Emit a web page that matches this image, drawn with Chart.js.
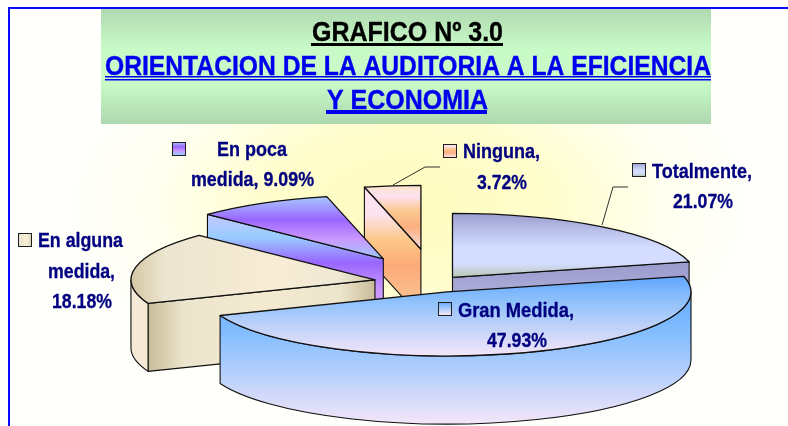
<!DOCTYPE html>
<html><head><meta charset="utf-8">
<style>html,body{margin:0;padding:0;background:#fff}canvas{display:block}</style>
<script src="https://cdn.jsdelivr.net/npm/chart.js@4"></script>
</head><body><canvas id="c" width="788" height="426"></canvas>
<script>
const categories=['Totalmente','Gran Medida','En alguna medida','En poca medida','Ninguna'];
const values=[21.07,47.93,18.18,9.09,3.72];
const explode=[0.11,0.147,0.255,0.435,0.53];
const titleLines=['GRAFICO Nº 3.0','ORIENTACION DE LA AUDITORIA A LA EFICIENCIA','Y ECONOMIA'];
const drawOrder=[4,3,2,0,1];
const RX=244,RY=64,DEPTH=68;
const topPaint=[
 ['y',212,277,[[0,'#9a9acc'],[.35,'#c0c8f0'],[.55,'#d4dcff'],[.8,'#d4dcff'],[1,'#b8c8b4']]],
 ['y',275,357,[[0,'#5ea4ff'],[.3,'#8cc0fb'],[1,'#f6e6f8']]],
 ['x',131,375,[[0,'#d4c8a4'],[.14,'#ece5d0'],[.6,'#f8ecd4'],[.85,'#efe8d4'],[1,'#d0c8a8']]],
 ['y',196,260,[[0,'#a8ccff'],[.37,'#9a66ff'],[.68,'#cc99ff'],[1,'#99ccff']]],
 ['y',185,250,[[0,'#f9e4c8'],[.17,'#fde3f0'],[.4,'#fcc890'],[.65,'#fbb080'],[1,'#fde0e0']]]
];
const wallPaint=[
 ['y',261,300,[[0,'#9a9acc'],[1,'#b0b0dc']]],
 ['y',290,424,[[0,'#66aaff'],[.3,'#80bcff'],[1,'#f4e6f8']]],
 ['x',148,375,[[0,'#c8bc98'],[.16,'#ece4cc'],[.5,'#f4ead2'],[.85,'#ece4cc'],[1,'#c8bc98']]],
 ['y',213,300,[[0,'#c4c8ff'],[.28,'#99ccff'],[.57,'#9966ff'],[.9,'#cc99ff'],[1,'#cc99ff']]],
 ['y',188,318,[[0,'#fde3f0'],[.2,'#fde3f0'],[.4,'#fcc888'],[.6,'#fbaa78'],[.85,'#fbc090'],[1,'#fbc090']]]
];
const TITLE_COL=['#000','#0000ee','#0000ee'];
const titleBoxes=[[312,503,41],[105,711,75],[327,488,109]];
const labelPlace=[
 {key:[632,163],lines:[[652,752,178],[673,733,208]]},
 {key:[438,302],lines:[[458,574,317],[487,547,347]]},
 {key:[18,233],lines:[[38,123,247],[48,115,278],[52,112,308]]},
 {key:[172,142],lines:[[217,287,156],[191,314,186]]},
 {key:[443,144],lines:[[463,540,158],[477,527,189]]}
];
const labelText=[
 [categories[0]+',',values[0].toFixed(2)+'%'],
 [categories[1]+',',values[1].toFixed(2)+'%'],
 ['En alguna','medida,',values[2].toFixed(2)+'%'],
 ['En poca','medida, '+values[3].toFixed(2)+'%'],
 [categories[4]+',',values[4].toFixed(2)+'%']
];
const leaders=[[[393,185],[425,167],[440,167]],[[602,225],[613,187],[628,187]]];

function grad(ctx,p,x0,y0,x1,y1){
  const g=p[0]==='y'?ctx.createLinearGradient(0,y0,0,y1):ctx.createLinearGradient(x0,0,x1,0);
  p[3].forEach(s=>g.addColorStop(s[0],s[1]));return g;
}
function screenGrad(ctx,p){return grad(ctx,p,p[1],p[1],p[2],p[2]);}
function apexOf(arc,i){
  const R=arc.outerRadius,mid=(arc.startAngle+arc.endAngle)/2;
  return [arc.x+explode[i]*Math.cos(mid)*RX,arc.y+explode[i]*Math.sin(mid)*RY,R];
}
function arcFill(c){
  const chart=c.chart,area=chart.chartArea;
  if(!area||c.dataIndex===undefined)return '#ccc';
  const i=c.dataIndex,p=topPaint[i];
  const R=Math.min(area.width,area.height)/2,cx=(area.left+area.right)/2,cy=(area.top+area.bottom)/2;
  const tot=values.reduce((a,b)=>a+b,0);let s=-Math.PI/2;
  for(let k=0;k<i;k++)s+=values[k]/tot*2*Math.PI;
  const mid=s+values[i]/tot*Math.PI;
  const ax=cx+explode[i]*Math.cos(mid)*RX,ay=cy+explode[i]*Math.sin(mid)*RY;
  const sx=RX/R,sy=RY/R;
  const lx=v=>(v-ax)/sx+cx,ly=v=>(v-ay)/sy+cy;
  return grad(chart.ctx,p,lx(p[1]),ly(p[1]),lx(p[2]),ly(p[2]));
}
function drawFit(ctx,text,x0,x1,base,font,color,heavy){
  ctx.save();ctx.font=font;ctx.fillStyle=color;ctx.textAlign='left';ctx.textBaseline='alphabetic';
  const w=ctx.measureText(text).width;
  ctx.translate(x0,base);ctx.scale((x1-x0)/w,1);ctx.fillText(text,0,0);
  if(heavy){ctx.strokeStyle=color;ctx.lineWidth=heavy;ctx.lineJoin='round';ctx.strokeText(text,0,0);}
  ctx.restore();
}
const pie3d={
 id:'pie3d',
 beforeDraw(chart){
  const ctx=chart.ctx,W=chart.width,H=chart.height;
  ctx.save();
  ctx.fillStyle='#fffffb';ctx.fillRect(0,0,W,H);
  ctx.save();ctx.translate(410,205);ctx.scale(1,0.55);
  const g=ctx.createRadialGradient(0,0,10,0,0,340);
  g.addColorStop(0,'#fffcc0');g.addColorStop(.4,'#fffdcc');g.addColorStop(.75,'#fffff0');g.addColorStop(1,'#fffffb');
  ctx.fillStyle=g;ctx.fillRect(-410,-420,W,840);ctx.restore();
  ctx.fillStyle='#0a0aff';ctx.fillRect(8,7,W-8,2);ctx.fillRect(8,7,2,H-7);
  const b=ctx.createLinearGradient(0,8,0,123);
  b.addColorStop(0,'#b0d8b0');b.addColorStop(.35,'#c8fac8');b.addColorStop(.65,'#c8fbc8');b.addColorStop(1,'#aed8ae');
  ctx.fillStyle=b;ctx.fillRect(101,9,610,115);
  titleLines.forEach((t,i)=>{
    const [x0,x1,y]=titleBoxes[i];
    drawFit(ctx,t,x0,x1,y,'bold 27.5px "Liberation Sans"',TITLE_COL[i],0.4);
  });
  ctx.fillStyle='#000';ctx.fillRect(311,43,192,3);
  ctx.fillStyle='#0000ee';
  ctx.fillRect(105,76,606,1.5);ctx.fillRect(105,79,606,1.5);
  ctx.fillRect(326,110,161,4);
  ctx.restore();
 },
 beforeDatasetsDraw(chart){
  const ctx=chart.ctx,arcs=chart.getDatasetMeta(0).data;
  ctx.save();ctx.strokeStyle='#101010';ctx.lineJoin='round';
  drawOrder.forEach(i=>{
    const arc=arcs[i],s=arc.startAngle,e=arc.endAngle;
    const [ax,ay,R]=apexOf(arc,i);
    const wg=screenGrad(ctx,wallPaint[i]);
    const face=t=>{
      const px=ax+Math.cos(t)*RX,py=ay+Math.sin(t)*RY;
      ctx.beginPath();ctx.moveTo(ax,ay);ctx.lineTo(px,py);ctx.lineTo(px,py+DEPTH);ctx.lineTo(ax,ay+DEPTH);ctx.closePath();
      ctx.fillStyle=wg;ctx.fill();ctx.lineWidth=1.1;ctx.stroke();
    };
    const t0=Math.max(s,0),t1=Math.min(e,Math.PI);
    if(Math.cos(s)<0)face(s);
    if(Math.cos(e)>0)face(e);
    if(t1>t0){
      ctx.beginPath();ctx.ellipse(ax,ay,RX,RY,0,t0,t1);
      ctx.ellipse(ax,ay+DEPTH,RX,RY,0,t1,t0,true);ctx.closePath();
      ctx.fillStyle=i===2?'#f6ead6':wg;ctx.fill();ctx.lineWidth=1.1;ctx.stroke();
    }
    ctx.save();
    ctx.translate(ax,ay);ctx.scale(RX/R,RY/R);ctx.translate(-arc.x,-arc.y);
    arc.draw(ctx);
    ctx.restore();
    ctx.beginPath();ctx.moveTo(ax,ay);ctx.ellipse(ax,ay,RX,RY,0,s,e);ctx.closePath();
    ctx.lineWidth=1.3;ctx.stroke();
  });
  ctx.restore();
  return false;
 },
 afterDraw(chart){
  const ctx=chart.ctx;
  ctx.save();
  ctx.strokeStyle='#303030';ctx.lineWidth=1;
  leaders.forEach(l=>{ctx.beginPath();l.forEach((p,k)=>k?ctx.lineTo(p[0],p[1]):ctx.moveTo(p[0],p[1]));ctx.stroke();});
  labelPlace.forEach((lp,i)=>{
    const [kx,ky]=lp.key,p=topPaint[i];
    const g=p[0]==='y'?ctx.createLinearGradient(0,ky,0,ky+13):ctx.createLinearGradient(kx,0,kx+13,0);
    p[3].forEach(s=>g.addColorStop(s[0],s[1]));
    ctx.fillStyle=g;ctx.fillRect(kx+.5,ky+.5,13,13);
    ctx.strokeStyle='#202020';ctx.lineWidth=1;ctx.strokeRect(kx+.5,ky+.5,13,13);
    lp.lines.forEach((l,k)=>drawFit(ctx,labelText[i][k],l[0],l[1],l[2],'bold 20px "Liberation Sans"','#000080',0.3));
  });
  ctx.restore();
 }
};
new Chart(document.getElementById('c').getContext('2d'),{
 type:'pie',
 data:{labels:categories,datasets:[{data:values,backgroundColor:arcFill,borderWidth:0,hoverOffset:0}]},
 options:{responsive:false,animation:false,events:[],
  layout:{padding:{left:84,right:0,top:140,bottom:0}},
  plugins:{legend:{display:false},tooltip:{enabled:false},title:{display:false}}},
 plugins:[pie3d]
});
</script></body></html>
